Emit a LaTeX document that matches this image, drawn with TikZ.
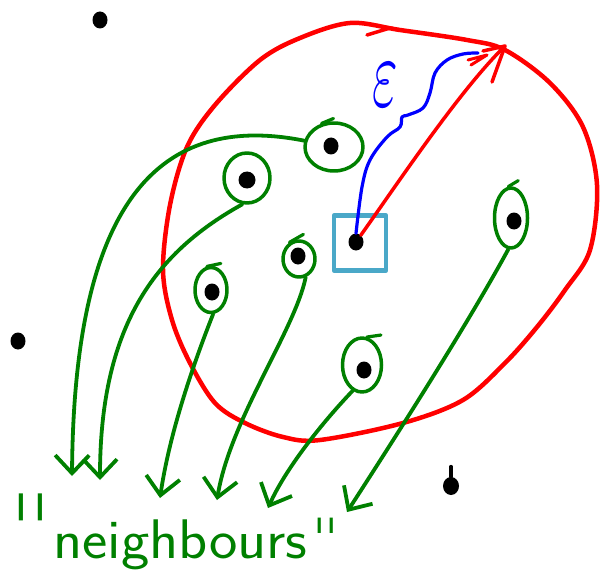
\documentclass[tikz,border=0pt]{standalone}
\usepackage{fontspec}
\newfontfamily\qfont{DejaVu Sans}
\usetikzlibrary{shapes.geometric,arrows.meta}
\definecolor{ngreen}{RGB}{0,128,0}
\definecolor{nred}{RGB}{255,0,0}
\definecolor{nblue}{RGB}{0,0,255}
\definecolor{ncyan}{RGB}{74,168,200}
\begin{document}
\begin{tikzpicture}[x=1bp,y=-1bp,line cap=round,line join=round,
  dot/.style={fill=black,ellipse,inner sep=0pt,minimum width=15bp,minimum height=17bp},
  ring/.style={draw=ngreen,line width=3.5bp,ellipse,inner sep=0pt},
  garrow/.style={draw=ngreen,line width=3.8bp,-{Straight Barb[length=18bp,width=34bp]}},
  gtail/.style={draw=ngreen,line width=3.2bp},
  redline/.style={draw=nred,line width=4.5bp},
  label/.style={text=ngreen,font=\sffamily\fontsize{56}{56}\selectfont,inner sep=0pt},
  quote/.style={text=ngreen,inner sep=0pt,anchor=north}]
\useasboundingbox (0,0) rectangle (602,588);
% red neighbourhood circle
\draw[redline] plot[smooth cycle,tension=0.55] coordinates {(350,23) (400,30) (467,40) (505,50) (550,83) (583,127) (597,185) (590,250) (565,290) (537,327) (505,363) (463,400) (403,423) (320,440) (283,437) (245,423) (215,403) (190,363) (172,320) (163,270) (170,205) (187,147) (215,105) (260,60) (300,38)};
\draw[redline,line width=3.5bp] (367,35) -- (390,28) -- (400,30);
% points
\node[dot] (d1) at (100,20) {};
\node[dot] (d2) at (18,341) {};
\node[dot,minimum width=16bp,minimum height=18bp] (d3) at (451,486) {};
\draw[line width=4bp] (d3.north) -- ++(0,-10);
\node[dot] (dA) at (331,146) {};
\node[dot,ellipse,minimum width=17bp,minimum height=17bp] (dB) at (247,180) {};
\node[dot] (dC) at (298,256) {};
\node[dot] (dD) at (212,292) {};
\node[dot] (dE) at (364,370) {};
\node[dot] (dF) at (514,221) {};
\node[dot] (c) at (356,242) {};
% cyan box around the query point
\node[draw=ncyan,line width=4.5bp,minimum width=52bp,minimum height=55bp,inner sep=0pt] (sq) at (360,243) {};
% rings
\node[ring,minimum width=58bp,minimum height=48bp] (rA) at (334,147) {};
\node[ring,minimum width=46bp,minimum height=50bp] (rB) at (247,178) {};
\node[ring,minimum width=32bp,minimum height=36bp] (rC) at (299,259) {};
\node[ring,minimum width=32bp,minimum height=45bp] (rD) at (211,290) {};
\node[ring,minimum width=39bp,minimum height=54bp] (rE) at (362,365) {};
\node[ring,minimum width=33bp,minimum height=60bp] (rF) at (511,218) {};
\draw[gtail] (rA.118) -- ++(12,-5);
\draw[gtail] (rC.120) -- ++(14,-8);
\draw[gtail] (rD.100) -- ++(14,-3);
\draw[gtail] (rE.80) -- ++(14,-2);
\draw[gtail] (rF.95) -- ++(10,-6);
% green arrows
\draw[garrow] (rA.168) .. controls (160,112) and (74,200) .. (72,476);
\draw[garrow] (rB.-100) .. controls (160,250) and (100,320) .. (100,480);
\draw[garrow] (rD.-85) .. controls (195,360) and (170,430) .. (160,498);
\draw[garrow] (rC.-70) .. controls (295,330) and (230,420) .. (217,500);
\draw[garrow] (rE.-110) .. controls (320,425) and (285,470) .. (268,508);
\draw[garrow] (rF.-95) .. controls (470,320) and (400,430) .. (347,512);
% radius arrow
\coordinate (tip) at (505,46);
\draw[redline,line width=3.5bp] (c) .. controls (400,180) and (460,90) .. (tip);
\draw[redline,line width=3.5bp] (483,51) -- (tip) -- (492,82);
\draw[redline,line width=3bp] (468,60) -- (487,55) -- (471,65);
% epsilon brace
\draw[nblue,line width=3.2bp] plot[smooth,tension=0.6] coordinates {(c.north) (362,187) (370,160) (387,137) (400,127) (402,117) (408,115) (423,108) (430,93) (435,73) (447,60) (463,54) (478,53)};
\node[text=nblue,xscale=5.5,yscale=10,inner sep=0pt] (eps) at (385,85) {$\varepsilon$};
% label
\node[label,anchor=base west,xscale=1.08] (lab) at (53,558) {neighbours};
\node[quote,font=\qfont\fontsize{50}{50}\selectfont,yscale=2] (ql) at (31,493) {'\kern5bp'};
\node[quote,font=\qfont\fontsize{38}{38}\selectfont,yscale=1.5] (qr) at (326,518) {'\kern2bp'};
\end{tikzpicture}
\end{document}
